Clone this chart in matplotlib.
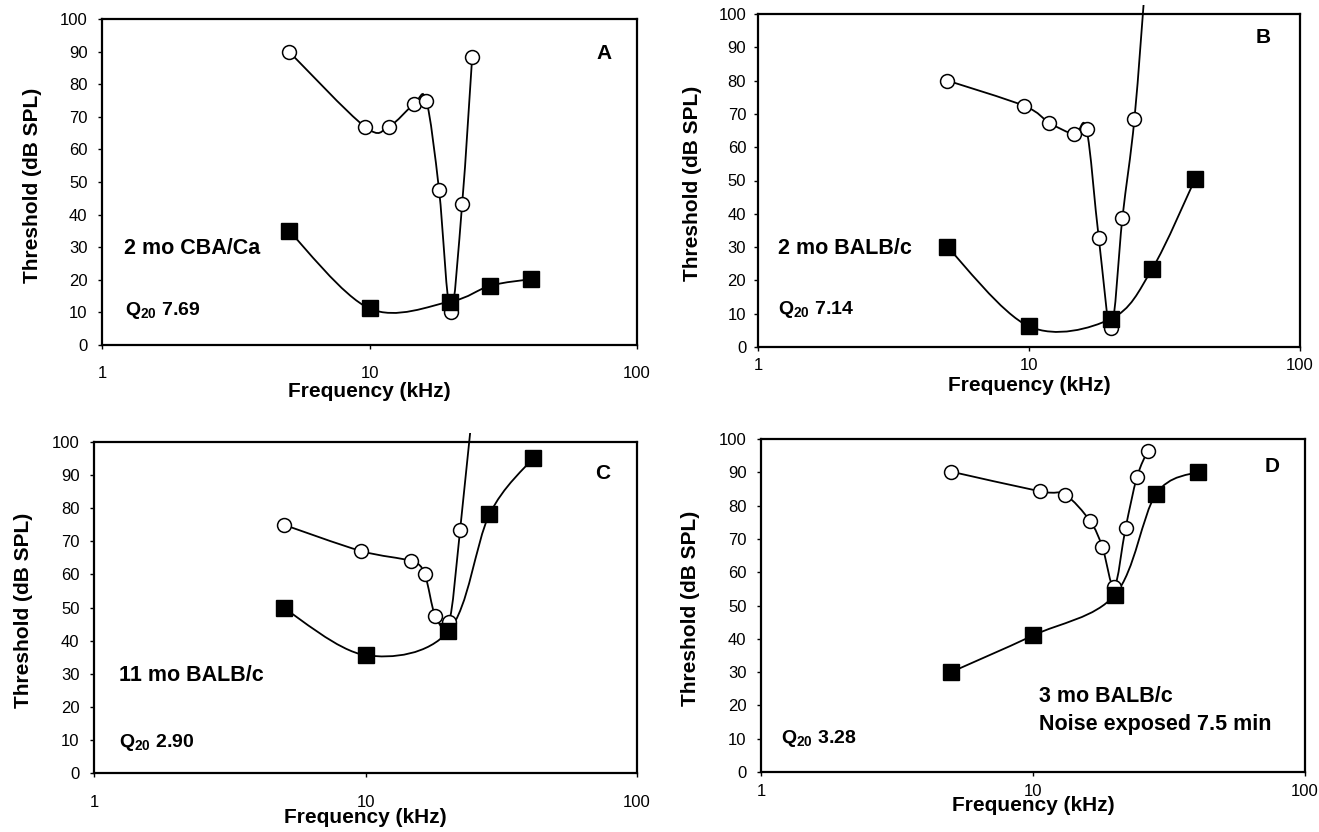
import numpy as np
import matplotlib
matplotlib.use("Agg")
import matplotlib.pyplot as plt
from matplotlib.path import Path
from matplotlib.patches import PathPatch, Rectangle

plt.rcParams['font.family'] = ['Liberation Sans', 'DejaVu Sans']
plt.rcParams['mathtext.fontset'] = 'custom'
plt.rcParams['mathtext.rm'] = 'Liberation Sans:bold'
plt.rcParams['mathtext.it'] = 'Liberation Sans:bold'
plt.rcParams['mathtext.bf'] = 'Liberation Sans:bold'

# ---------------- data ----------------
# Panel A: 2 mo CBA/Ca
a_open_f = [5.0, 9.6, 11.8, 14.7, 16.3, 18.2, 20.1, 22.2, 24.2]
a_open_t = [90, 67, 67, 74, 75, 47.5, 10.2, 43.3, 88.3]
a_fill_f = [5.0, 10.0, 20.0, 28.3, 40.2]
a_fill_t = [35, 11.2, 13.3, 18.2, 20.2]

# Panel B: 2 mo BALB/c
b_open_f = [5.0, 9.6, 11.9, 14.7, 16.3, 18.1, 20.1, 22.1, 24.5]
b_open_t = [80, 72.4, 67.3, 63.9, 65.4, 32.6, 5.7, 38.6, 68.6]
b_open_offscale_f = [27.0]
b_open_offscale_t = [112]
b_fill_f = [5.0, 10.0, 20.0, 28.5, 41.0]
b_fill_t = [30, 6.2, 8.4, 23.5, 50.4]

# Panel C: 11 mo BALB/c
c_open_f = [5.0, 9.6, 14.7, 16.5, 18.1, 20.3, 22.3]
c_open_t = [75, 67.1, 64, 60.1, 47.3, 45.5, 73.3]
c_open_offscale_f = [26.0]
c_open_offscale_t = [127]
c_fill_f = [5.0, 10.0, 20.2, 28.6, 41.5]
c_fill_t = [49.8, 35.6, 42.8, 78.1, 95.2]

# Panel D: 3 mo BALB/c, noise exposed 7.5 min
d_open_f = [5.0, 10.6, 13.1, 16.2, 18.0, 19.9, 21.9, 24.1, 26.4]
d_open_t = [90.2, 84.3, 83.3, 75.4, 67.5, 55.6, 73.3, 88.5, 96.5]
d_fill_f = [5.0, 10.0, 20.0, 28.3, 40.5]
d_fill_t = [30, 41, 53.2, 83.4, 90.2]

panel_letters = ['A', 'B', 'C', 'D']
strain_labels = ['2 mo CBA/Ca', '2 mo BALB/c', '11 mo BALB/c',
                 '3 mo BALB/c\nNoise exposed 7.5 min']
q20_values = ['7.69', '7.14', '2.90', '3.28']
y_ticks = [0, 10, 20, 30, 40, 50, 60, 70, 80, 90, 100]
x_ticks = [1, 10, 100]
x_ticklabels = ['1', '10', '100']


def smooth_path(xs, ys):
    """Excel-like smoothed line: cubic Bezier (Catmull-Rom) in log-x space."""
    pts = np.column_stack([np.log10(np.asarray(xs, float)), np.asarray(ys, float)])
    n = len(pts)
    verts = [pts[0]]
    codes = [Path.MOVETO]
    for i in range(n - 1):
        p0 = pts[i - 1] if i > 0 else pts[i]
        p1 = pts[i]
        p2 = pts[i + 1]
        p3 = pts[i + 2] if i + 2 < n else pts[i + 1]
        c1 = p1 + (p2 - p0) / 6.0
        c2 = p2 - (p3 - p1) / 6.0
        verts += [c1, c2, p2]
        codes += [Path.CURVE4] * 3
    verts = np.array(verts)
    verts[:, 0] = 10 ** verts[:, 0]
    return Path(verts, codes)


fig = plt.figure(figsize=(13.19, 8.32), dpi=100)

W, H = 1319.0, 832.0
# frame boxes in pixels: left, right, top, bottom
boxes = [(102, 637, 19, 345), (758, 1300, 14, 347),
         (94, 637, 442, 773), (761, 1305, 439, 772)]
xtick_pads = [12.0, 5.0, 12.5, 5.5]
ytick_pads = [7.5, 5.5, 7.5, 7.5]
ylabel_x = [-0.112, -0.103, -0.112, -0.112]
xlabel_y = [-0.112, -0.088, -0.107, -0.073]
letter_pos = [(0.939, 89.3), (0.933, 93.0), (0.936, 90.6), (0.940, 91.6)]
strain_pos = [(1.21, 29.6), (1.19, 29.5), (1.24, 29.5), (10.5, 18.5)]
q20_pos = [(1.22, 10.7), (1.19, 11.2), (1.24, 9.1), (1.18, 10.2)]

panels = [
    (a_open_f, a_open_t, [], [], a_fill_f, a_fill_t),
    (b_open_f, b_open_t, b_open_offscale_f, b_open_offscale_t, b_fill_f, b_fill_t),
    (c_open_f, c_open_t, c_open_offscale_f, c_open_offscale_t, c_fill_f, c_fill_t),
    (d_open_f, d_open_t, [], [], d_fill_f, d_fill_t),
]

for k, (of, ot, oxf, oxt, ff, ft) in enumerate(panels):
    l, r, t, b = boxes[k]
    ax = fig.add_axes([l / W, 1 - b / H, (r - l) / W, (b - t) / H])
    ax.set_xscale('log')
    ax.set_xlim(1, 100)
    ax.set_ylim(0, 100)

    clip = Rectangle((0, 0), 1, 1.028, transform=ax.transAxes)

    # open-circle curve
    p_open = PathPatch(smooth_path(list(of) + list(oxf), list(ot) + list(oxt)),
                       fill=False, edgecolor='black', linewidth=1.3, zorder=2)
    ax.add_patch(p_open)
    p_open.set_clip_path(clip)
    # filled-square curve
    p_fill = PathPatch(smooth_path(ff, ft), fill=False, edgecolor='black',
                       linewidth=1.3, zorder=2)
    ax.add_patch(p_fill)

    ax.plot(of, ot, linestyle='none', marker='o', markersize=10,
            markerfacecolor='white', markeredgecolor='black',
            markeredgewidth=1.1, zorder=3)
    ax.plot(ff, ft, linestyle='none', marker='s', markersize=11,
            markerfacecolor='black', markeredgecolor='black', zorder=4)

    ax.set_xticks(x_ticks)
    ax.set_xticklabels(x_ticklabels)
    ax.xaxis.set_minor_locator(matplotlib.ticker.NullLocator())
    ax.set_yticks(y_ticks)
    ax.tick_params(axis='both', direction='out', length=3, width=1,
                   labelsize=12, colors='black')
    ax.tick_params(axis='x', pad=xtick_pads[k])
    ax.tick_params(axis='y', pad=ytick_pads[k])
    for s in ax.spines.values():
        s.set_linewidth(1.6)
        s.set_color('black')

    ax.set_ylabel('Threshold (dB SPL)', fontsize=15, fontweight='bold')
    ax.yaxis.set_label_coords(ylabel_x[k], 0.49)
    ax.set_xlabel('Frequency (kHz)', fontsize=15, fontweight='bold')
    ax.xaxis.set_label_coords(0.5, xlabel_y[k])

    lx, ly = letter_pos[k]
    ax.text(lx, ly, panel_letters[k], transform=ax.get_yaxis_transform(),
            fontsize=15, fontweight='bold', ha='center', va='center')
    sx, sy = strain_pos[k]
    ax.text(sx, sy, strain_labels[k], fontsize=15.5, fontweight='bold',
            ha='left', va='center', linespacing=1.45)
    qx, qy = q20_pos[k]
    ax.text(qx, qy, 'Q$_{\\mathrm{20}}$ ' + q20_values[k], fontsize=14,
            fontweight='bold', ha='left', va='center')

fig.savefig('out.png', dpi=100)
